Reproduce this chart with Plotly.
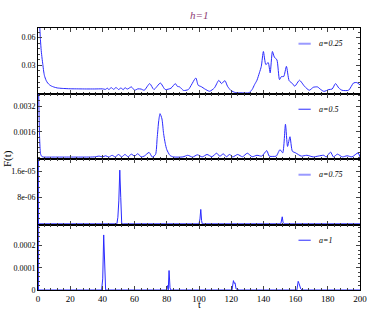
import plotly.graph_objects as go
from plotly.subplots import make_subplots

# a=0.25
t_a025 = [0, 0.5, 1, 1.5, 2, 2.5, 3, 3.5, 4, 5, 6, 7, 8, 10, 12, 15, 20, 25, 30, 35, 40,
          42, 43, 44, 45.5, 47, 48.5, 50, 51.5, 53, 54, 55.5, 58, 60, 62, 64, 66, 69.4, 72,
          76, 79, 82.6, 85.3, 86.5, 88, 90.4, 93.4, 98, 99.5, 101.5, 103.5, 106.6, 109.6,
          112.3, 114, 116.1, 117.7, 119.8, 122.8, 127, 131, 133, 134.5, 136, 137.5, 138.7,
          140, 141.5, 143, 144.2, 145.6, 146.8, 148.4, 150, 151.2, 152.6, 154.3, 156, 158,
          159.5, 162.4, 165.5, 168.5, 171, 173.6, 175.6, 177.6, 180.7, 182.7, 184.8, 186.8,
          188.8, 192.9, 196, 198, 200]
f_a025 = [0.12, 0.095, 0.075, 0.058, 0.046, 0.038, 0.031, 0.024, 0.019, 0.014, 0.011, 0.0093,
          0.008, 0.0066, 0.0057, 0.0052, 0.0048, 0.0047, 0.0046, 0.0046, 0.0047,
          0.0042, 0.0055, 0.0040, 0.0060, 0.0042, 0.0062, 0.0040, 0.0056, 0.0038, 0.006,
          0.0045, 0.0068, 0.0032, 0.0047, 0.0045, 0.0032, 0.0104, 0.004,
          0.011, 0.004, 0.0054, 0.0104, 0.0075, 0.0068, 0.003, 0.004, 0.0164, 0.0086, 0.007,
          0.0047, 0.0021, 0.0058, 0.0139, 0.0104, 0.0136, 0.0075, 0.003, 0.0006, 0.0004,
          0.0005, 0.004, 0.0093, 0.014, 0.022, 0.029, 0.045, 0.031, 0.033, 0.022, 0.045,
          0.039, 0.036, 0.0147, 0.018, 0.018, 0.029, 0.0135, 0.0105, 0.0075, 0.014, 0.0075,
          0.0032, 0.0064, 0.0068, 0.004, 0.002, 0.004, 0.0045, 0.0104, 0.0057, 0.0032,
          0.0032, 0.0111, 0.0115, 0.009]

# a=0.5
t_a05 = [0, 0.5, 1, 1.5, 2, 3, 10, 20, 30, 35, 38, 40, 42, 44, 46, 48, 50, 52, 54, 56, 58,
         60, 62, 64, 66, 69, 71, 73, 74, 75, 75.8, 77, 78, 79, 80, 82, 84, 90, 93, 96, 99,
         102, 105, 108, 111, 113, 115, 117, 119, 121, 124, 127, 130, 133, 136, 139, 142.1,
         143.6, 146, 148, 150.3, 152, 153.7, 155, 156.5, 158, 160, 163.5, 167, 171, 174,
         177.5, 179, 181.7, 183.5, 186, 189, 192, 195, 198.8, 200]
f_a05 = [0.006, 0.0035, 0.0012, 0.0003, 0.00012, 0.00005, 0.00004, 0.00004, 0.00004,
         0.00005, 0.0001, 0.00005, 0.00012, 0.00004, 0.00015, 0.00005, 0.0002, 0.00005,
         0.0002, 0.00006, 0.00022, 0.0001, 0.00025, 0.00005, 0.0001, 0.00033, 0.00004,
         0.0002, 0.0012, 0.0023, 0.00273, 0.0024, 0.0015, 0.0009, 0.0005, 0.00014, 0.00005,
         0.00005, 0.00015, 0.00004, 0.00018, 0.00005, 0.0002, 0.00006, 0.00028, 0.00008,
         0.00025, 0.00006, 0.0002, 0.00005, 0.0002, 0.00006, 0.00028, 0.00006, 0.00015,
         0.0001, 0.00044, 0.0001, 0.00008, 0.0001, 0.0005, 0.0003, 0.00207, 0.0007, 0.0013,
         0.0004, 0.0003, 0.0001, 0.00015, 0.00005, 0.0001, 0.00015, 0.00005, 0.00035,
         0.00005, 0.00022, 0.00005, 0.00012, 0.00005, 0.0003, 0.00005]

# a=0.75
t_a075 = [0, 0.3, 49, 49.6, 50.2, 50.8, 51.4, 52, 53, 100, 100.6, 101.1, 101.6, 102,
          150.8, 151.3, 151.7, 152.2, 153, 200]
f_a075 = [1e-4, 0, 0, 2e-6, 7e-6, 1.64e-5, 8e-6, 0, 0, 0, 1.5e-6, 4.4e-6, 1e-6, 0,
          0, 1.3e-6, 2.15e-6, 0.5e-6, 0, 0]

# a=1
t_a1 = [0, 0.3, 39.5, 40.2, 40.8, 41.4, 42, 79.8, 80.5, 80.9, 81.4, 82, 82.5, 120.5, 121,
        121.4, 121.9, 122.4, 123, 124, 125, 160.8, 161.2, 161.6, 162.1, 162.6, 163.2, 164, 200]
f_a1 = [0.001, 0, 0, 0.00005, 0.000248, 0.0001, 0, 0, 0.00002, 0, 0.0000877, 0.00001, 0,
        0, 0.00002, 0.0000423, 0.00003, 0.0000327, 0.000005, 0.000003, 0, 0, 0.00002,
        0.000039, 0.00003, 0.00002, 0.000005, 0, 0]

labels = ["a=0.25", "a=0.5", "a=0.75", "a=1"]
series = [(t_a025, f_a025), (t_a05, f_a05), (t_a075, f_a075), (t_a1, f_a1)]
shapes = ["spline", "spline", "linear", "linear"]
y_ranges = [[-0.0003, 0.0704], [-0.00008, 0.00398], [-2e-7, 1.98e-5], [0, 0.000295]]
y_ticks = [([0.03, 0.06], ["0.03", "0.06"]),
           ([0.0016, 0.0032], ["0.0016", "0.0032"]),
           ([8e-6, 1.6e-5], ["8e-06", "1.6e-05"]),
           ([0, 0.0001, 0.0002], ["0", "0.0001", "0.0002"])]
y_minor = [0.006, 0.00032, 1.6e-6, 0.00002]
legend_colors = ["#9a9aff", "#2a2aff", "#9a9aff", "#2a2aff"]
legend_widths = [2, 1, 2, 1]

SERIF = "Liberation Serif"
LINE = "#2a2aff"

fig = make_subplots(rows=4, cols=1, shared_xaxes=True, vertical_spacing=0)

for i, (t, f) in enumerate(series):
    row = i + 1
    fig.add_trace(go.Scatter(x=t, y=f, mode="lines",
                             line=dict(color=LINE, width=1, shape=shapes[i], smoothing=0.6),
                             showlegend=False), row=row, col=1)
    fig.update_yaxes(range=y_ranges[i], tickvals=y_ticks[i][0], ticktext=y_ticks[i][1],
                     ticks="inside", ticklen=4, mirror="allticks", showline=True,
                     linecolor="black", linewidth=1, showgrid=False, zeroline=False,
                     tickfont=dict(family=SERIF, size=8, color="black"),
                     minor=dict(ticks="inside", ticklen=2, dtick=y_minor[i],
                                tick0=0, showgrid=False),
                     row=row, col=1)
    fig.update_xaxes(range=[0, 200], dtick=20, ticks="inside", ticklen=4,
                     mirror="allticks", showline=True, linecolor="black", linewidth=1,
                     showgrid=False, zeroline=False, showticklabels=(row == 4),
                     ticklabeloverflow="allow", ticklabelstandoff=0,
                     tickfont=dict(family=SERIF, size=9, color="black"),
                     minor=dict(ticks="inside", ticklen=2, dtick=4, showgrid=False),
                     row=row, col=1)
    yref = "y domain" if row == 1 else f"y{row} domain"
    xref = "x domain" if row == 1 else f"x{row} domain"
    fig.add_shape(type="line", xref=xref, yref=yref, x0=0.809, x1=0.847, y0=0.76, y1=0.76,
                  line=dict(color=legend_colors[i], width=legend_widths[i]))
    fig.add_annotation(xref=xref, yref=yref, x=0.866, y=0.76, text=f"<i>{labels[i]}</i>",
                       showarrow=False, xanchor="left", yanchor="middle",
                       font=dict(family=SERIF, size=8, color="black"))

fig.add_annotation(xref="paper", yref="paper", x=0.5, y=1, yshift=13, text="<i>h=1</i>",
                   showarrow=False, yanchor="middle",
                   font=dict(family=SERIF, size=11, color="#8e3b74"))
fig.add_annotation(xref="paper", yref="paper", x=0.5, y=0, yshift=-21, text="t",
                   showarrow=False, yanchor="bottom", borderpad=0,
                   font=dict(family=SERIF, size=10, color="black"))
fig.add_annotation(xref="paper", yref="paper", x=0, xshift=-31, y=0.5, text="F(t)",
                   textangle=-90, showarrow=False, xanchor="center",
                   font=dict(family=SERIF, size=11, color="black"))

fig.update_layout(width=374, height=311, margin=dict(l=38, r=7, t=28, b=21),
                  paper_bgcolor="white", plot_bgcolor="white", showlegend=False)

# the browser's default body margin would push the figure 8px off the page
fig.write_html("out.html", config={"displayModeBar": False},
               post_script="document.body.style.margin='0';")
